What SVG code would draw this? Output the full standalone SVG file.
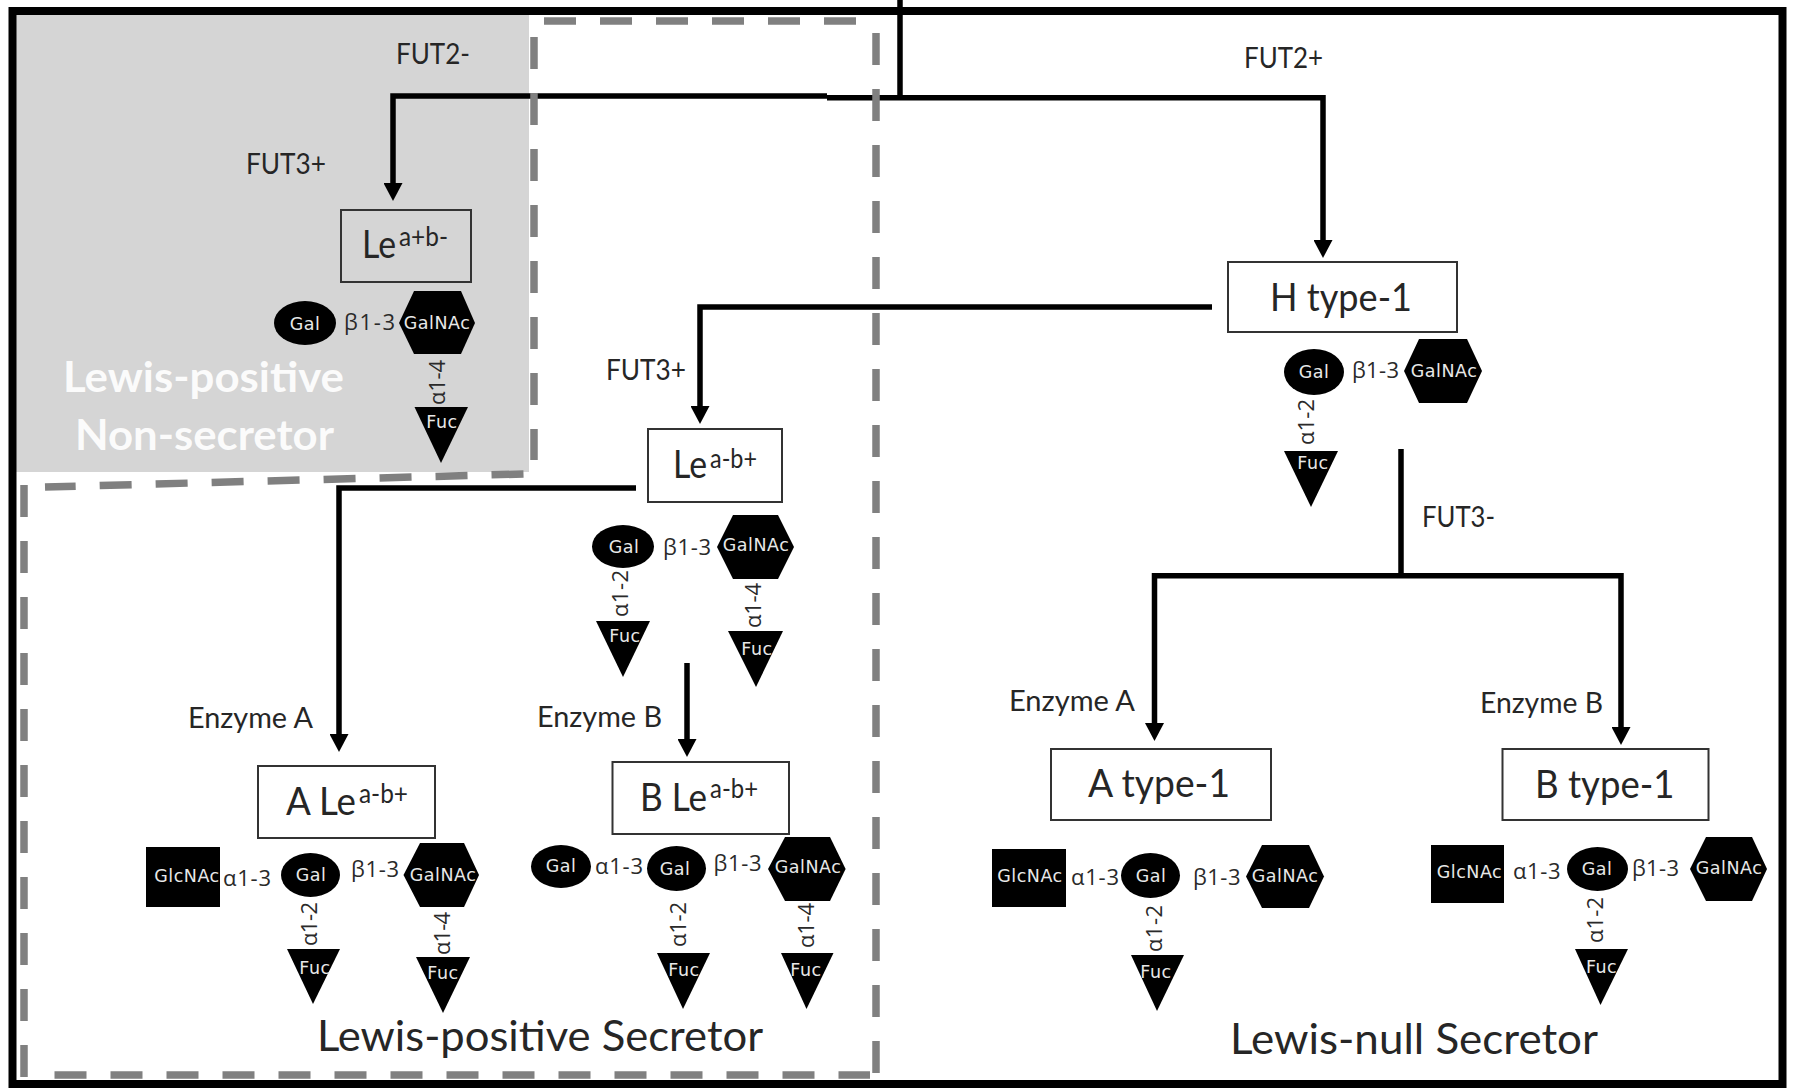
<svg xmlns="http://www.w3.org/2000/svg" width="1793" height="1088" viewBox="0 0 1793 1088">
<defs>
<style>
text{font-family:"Lato","Carlito","Open Sans",sans-serif;fill:#262626}
.box{fill:#fff;stroke:#333;stroke-width:2}
.open{fill:none}
.dk{fill:#000}
.s{font-family:"DejaVu Sans",sans-serif;font-size:17.5px;fill:#e8e8e8;text-anchor:middle;letter-spacing:.5px}
.l{font-family:"Open Sans",sans-serif;font-size:22px;fill:#2a2a2a}
.e{font-size:28px}
.t{font-size:39px}
.u{font-size:27px}
.big{font-size:42px}
.w{fill:#fff;font-weight:700;fill-opacity:.92}
.c{fill:none;stroke:#000;stroke-width:5.5}
.d{fill:none;stroke:#808080;stroke-width:7.5;stroke-dasharray:32 24}
</style>
<marker id="ah" markerUnits="userSpaceOnUse" markerWidth="19" markerHeight="19" refX="8" refY="9.5" orient="auto"><path d="M0,0L18,9.5L0,19Z" fill="#000"/></marker>
</defs>
<rect width="1793" height="1088" fill="#fff"/>
<rect id="non-secretor-zone" x="16" y="15" width="513" height="457" fill="#d5d5d5"/>
<g id="connectors">
<path class="c" d="M900,0V97.7"/>
<path class="c" d="M827,97.7H1323V248" marker-end="url(#ah)"/>
<path class="c" d="M827,96H393V191" marker-end="url(#ah)"/>
<path class="c" d="M1212,307H700V414" marker-end="url(#ah)"/>
<path class="c" d="M636,488H339V742" marker-end="url(#ah)"/>
<path class="c" d="M687,663V747" marker-end="url(#ah)"/>
<path class="c" d="M1401,449V575.7"/>
<path class="c" d="M1401,575.7H1154.5V731" marker-end="url(#ah)"/>
<path class="c" d="M1401,575.7H1621V735" marker-end="url(#ah)"/>
</g>
<g id="zones">
<path class="d" d="M544,21H860"/>
<path class="d" d="M876,33V1075"/>
<path class="d" d="M534,37V460"/>
<path class="d" d="M523.5,474L45,487"/>
<path class="d" d="M24,485V1077"/>
<path class="d" d="M54.5,1075H870"/>
</g>
<rect id="frame" x="12.5" y="11" width="1770" height="1073" fill="none" stroke="#000" stroke-width="8"/>

<g id="labels">
<text class="e" x="396" y="64" textLength="74" lengthAdjust="spacingAndGlyphs">FUT2-</text>
<text class="e" x="246" y="174" textLength="80" lengthAdjust="spacingAndGlyphs">FUT3+</text>
<text class="e" x="606" y="380" textLength="80" lengthAdjust="spacingAndGlyphs">FUT3+</text>
<text class="e" x="1244" y="68" textLength="79" lengthAdjust="spacingAndGlyphs">FUT2+</text>
<text class="e" x="1422" y="527" textLength="73" lengthAdjust="spacingAndGlyphs">FUT3-</text>
<text class="e" x="188" y="728" textLength="125" lengthAdjust="spacingAndGlyphs">Enzyme  A</text>
<text class="e" x="537" y="727" textLength="125" lengthAdjust="spacingAndGlyphs">Enzyme  B</text>
<text class="e" x="1009" y="711" textLength="126" lengthAdjust="spacingAndGlyphs">Enzyme  A</text>
<text class="e" x="1480" y="713" textLength="123" lengthAdjust="spacingAndGlyphs">Enzyme  B</text>
<text class="big w" x="63" y="392" textLength="281" lengthAdjust="spacingAndGlyphs">Lewis-positive</text>
<text class="big w" x="75" y="450" textLength="259" lengthAdjust="spacingAndGlyphs">Non-secretor</text>
<text class="big" x="317" y="1051" textLength="446" lengthAdjust="spacingAndGlyphs">Lewis-positive Secretor</text>
<text class="big" x="1230" y="1054" textLength="368" lengthAdjust="spacingAndGlyphs">Lewis-null Secretor</text>
</g>

<g id="le-a-pos"><rect class="box open" x="341" y="210" width="130" height="72"/><text class="t" x="362" y="258" textLength="34" lengthAdjust="spacingAndGlyphs">Le</text><text class="u" x="399" y="246" textLength="49" lengthAdjust="spacingAndGlyphs">a+b-</text></g>
<g id="le-a-pos-gal"><ellipse class="dk" cx="305" cy="323" rx="31" ry="22"/><text class="s" x="305" y="330">Gal</text></g>
<g id="le-a-pos-galnac"><path class="dk" d="M399,323L414,291H461L475,323L461,354H414Z"/><text class="s" x="437" y="329">GalNAc</text></g>
<g id="le-a-pos-fuc"><path class="dk" d="M414.5,407H468L441,463Z"/><text class="s" x="442" y="428">Fuc</text></g>
<g id="le-a-pos-links"><text class="l" x="344" y="330" textLength="51">β1-3</text><text class="l" transform="translate(445,405) rotate(-90)" textLength="45">α1-4</text></g>

<g id="le-b-pos"><rect class="box" x="648" y="429" width="134" height="73"/><text class="t" x="673" y="478" textLength="34" lengthAdjust="spacingAndGlyphs">Le</text><text class="u" x="710" y="468" textLength="47" lengthAdjust="spacingAndGlyphs">a-b+</text></g>
<g id="le-b-pos-gal"><ellipse class="dk" cx="623" cy="546.5" rx="31" ry="21.5"/><text class="s" x="624" y="553">Gal</text></g>
<g id="le-b-pos-galnac"><path class="dk" d="M717,547L733,515H778L794,547L778,579H733Z"/><text class="s" x="756" y="551">GalNAc</text></g>
<g id="le-b-pos-fuc1"><path class="dk" d="M596,621H650L623,677Z"/><text class="s" x="625" y="642">Fuc</text></g>
<g id="le-b-pos-fuc2"><path class="dk" d="M728,631H783L756,687Z"/><text class="s" x="757" y="655">Fuc</text></g>
<g id="le-b-pos-links"><text class="l" x="663" y="555" textLength="48">β1-3</text><text class="l" transform="translate(628,617) rotate(-90)" textLength="47">α1-2</text><text class="l" transform="translate(761,628) rotate(-90)" textLength="45">α1-4</text></g>

<g id="h-type-1"><rect class="box" x="1228" y="262" width="229" height="70"/><text class="t" x="1270" y="311" textLength="142" lengthAdjust="spacingAndGlyphs">H type-1</text></g>
<g id="h-gal"><ellipse class="dk" cx="1314" cy="372" rx="30" ry="23"/><text class="s" x="1314" y="378">Gal</text></g>
<g id="h-galnac"><path class="dk" d="M1404,371L1419,339H1467L1482,371L1467,403H1419Z"/><text class="s" x="1444" y="377">GalNAc</text></g>
<g id="h-fuc"><path class="dk" d="M1284,451H1338L1311,507Z"/><text class="s" x="1313" y="469">Fuc</text></g>
<g id="h-links"><text class="l" x="1352" y="378" textLength="47">β1-3</text><text class="l" transform="translate(1314,445) rotate(-90)" textLength="46">α1-2</text></g>

<g id="a-le"><rect class="box" x="258" y="766" width="177" height="72"/><text class="t" x="286" y="815" textLength="70" lengthAdjust="spacingAndGlyphs">A Le</text><text class="u" x="359" y="803" textLength="49" lengthAdjust="spacingAndGlyphs">a-b+</text></g>
<g id="a-le-glcnac"><rect class="dk" x="146" y="847" width="74" height="60"/><text class="s" x="187" y="882">GlcNAc</text></g>
<g id="a-le-gal"><ellipse class="dk" cx="310.5" cy="875" rx="29.5" ry="22"/><text class="s" x="311" y="881">Gal</text></g>
<g id="a-le-galnac"><path class="dk" d="M403.5,875L420,843H464L479,875L464,907H420Z"/><text class="s" x="443" y="881">GalNAc</text></g>
<g id="a-le-fuc1"><path class="dk" d="M287,949H340L313,1004Z"/><text class="s" x="315" y="974">Fuc</text></g>
<g id="a-le-fuc2"><path class="dk" d="M416,957H470L443,1013Z"/><text class="s" x="443" y="979">Fuc</text></g>
<g id="a-le-links"><text class="l" x="223" y="886" textLength="48">α1-3</text><text class="l" x="351" y="877" textLength="48">β1-3</text><text class="l" transform="translate(317,946) rotate(-90)" textLength="44">α1-2</text><text class="l" transform="translate(450,955) rotate(-90)" textLength="43">α1-4</text></g>

<g id="b-le"><rect class="box" x="612.5" y="762" width="176.5" height="72"/><text class="t" x="640" y="811" textLength="67" lengthAdjust="spacingAndGlyphs">B Le</text><text class="u" x="710" y="798" textLength="48" lengthAdjust="spacingAndGlyphs">a-b+</text></g>
<g id="b-le-gal1"><ellipse class="dk" cx="561" cy="866.5" rx="30" ry="21.5"/><text class="s" x="561" y="872">Gal</text></g>
<g id="b-le-gal2"><ellipse class="dk" cx="676.5" cy="868.5" rx="29.5" ry="22.5"/><text class="s" x="675" y="875">Gal</text></g>
<g id="b-le-galnac"><path class="dk" d="M768,869L785,837H830L845.6,869L830,901H785Z"/><text class="s" x="808" y="873">GalNAc</text></g>
<g id="b-le-fuc1"><path class="dk" d="M657,953H710L683,1009Z"/><text class="s" x="684" y="976">Fuc</text></g>
<g id="b-le-fuc2"><path class="dk" d="M781,953H833.5L806.5,1009Z"/><text class="s" x="806" y="976">Fuc</text></g>
<g id="b-le-links"><text class="l" x="595" y="874" textLength="48">α1-3</text><text class="l" x="713.5" y="871" textLength="48">β1-3</text><text class="l" transform="translate(686,947) rotate(-90)" textLength="45">α1-2</text><text class="l" transform="translate(814,948) rotate(-90)" textLength="45">α1-4</text></g>

<g id="a-type-1"><rect class="box" x="1051" y="749" width="220" height="71"/><text class="t" x="1088" y="797" textLength="142" lengthAdjust="spacingAndGlyphs">A type-1</text></g>
<g id="a-glcnac"><rect class="dk" x="992" y="849" width="74" height="58"/><text class="s" x="1030" y="882">GlcNAc</text></g>
<g id="a-gal"><ellipse class="dk" cx="1150.5" cy="875.5" rx="29.5" ry="22.5"/><text class="s" x="1151" y="882">Gal</text></g>
<g id="a-galnac"><path class="dk" d="M1246,876.5L1262,845H1309L1324,876.5L1309,908H1262Z"/><text class="s" x="1285" y="882">GalNAc</text></g>
<g id="a-fuc"><path class="dk" d="M1131,955H1184L1157,1011Z"/><text class="s" x="1156" y="978">Fuc</text></g>
<g id="a-links"><text class="l" x="1071" y="885" textLength="48">α1-3</text><text class="l" x="1193" y="885" textLength="47.5">β1-3</text><text class="l" transform="translate(1162,952) rotate(-90)" textLength="47">α1-2</text></g>

<g id="b-type-1"><rect class="box" x="1502.5" y="749" width="206" height="71"/><text class="t" x="1535" y="798" textLength="139.5" lengthAdjust="spacingAndGlyphs">B type-1</text></g>
<g id="b-glcnac"><rect class="dk" x="1431" y="845" width="73" height="58"/><text class="s" x="1469.5" y="878">GlcNAc</text></g>
<g id="b-gal"><ellipse class="dk" cx="1597.5" cy="869" rx="30.5" ry="22"/><text class="s" x="1597" y="875">Gal</text></g>
<g id="b-galnac"><path class="dk" d="M1690,869L1706,837H1752L1767,869L1752,901H1706Z"/><text class="s" x="1729" y="874">GalNAc</text></g>
<g id="b-fuc"><path class="dk" d="M1575,949H1628L1600.5,1005Z"/><text class="s" x="1601.6" y="973">Fuc</text></g>
<g id="b-links"><text class="l" x="1513" y="879" textLength="47.6">α1-3</text><text class="l" x="1632" y="876" textLength="47">β1-3</text><text class="l" transform="translate(1603,943) rotate(-90)" textLength="46">α1-2</text></g>
</svg>
